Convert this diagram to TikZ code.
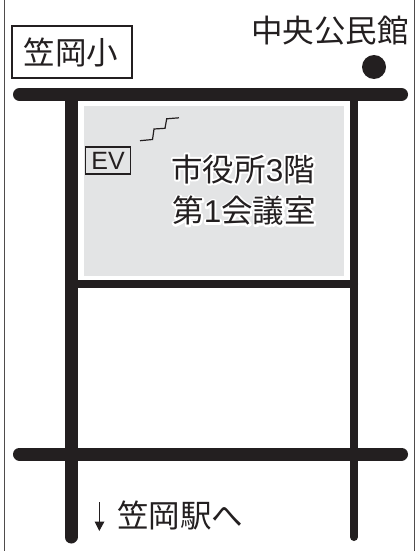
\documentclass[tikz,border=0pt]{standalone}
\usepackage{fontspec}
\newfontfamily\cjk{Noto Sans CJK JP}
\newfontfamily\latn{Liberation Sans}
\setsansfont{Liberation Sans}
\definecolor{ink}{HTML}{231F20}
\definecolor{floorgray}{HTML}{E3E4E5}
\newcommand{\haloed}[1]{\special{pdf:code q 1 Tr 1 1 1 RG 4 w 1 j 1 J}#1\special{pdf:code Q}}
\newcommand{\roomA}{市役所{\latn 3}階}
\newcommand{\roomB}{第{\latn 1}会議室}
\tikzset{
 road/.style={draw=ink,line width=13pt,line cap=round},
 thinroad/.style={draw=ink,line width=8pt,line cap=round},
 label/.style={font=\cjk\fontsize{31.5}{31.5}\selectfont,text=ink,inner sep=0pt},
}
\begin{document}
\begin{tikzpicture}[x=1pt,y=-1pt]
\useasboundingbox (0,0) rectangle (418,551);
\fill[white] (0,0) rectangle (418,551);
% frame: two side rules only
\coordinate (fl1) at (4.5,0); \coordinate (fl2) at (4.5,551);
\coordinate (fr1) at (414.5,0); \coordinate (fr2) at (414.5,551);
\draw[ink!80,line width=1.5pt] (fl1) -- (fl2);
\draw[ink!80,line width=1.5pt] (fr1) -- (fr2);
% floor
\fill[floorgray] (84,106) rectangle (344,276);
% roads
\coordinate (t1) at (19.5,94.5); \coordinate (t2) at (401.5,94.5);
\coordinate (b1) at (19.5,454); \coordinate (b2) at (401.5,454);
\coordinate (l1) at (71,94.5); \coordinate (l2) at (71,537);
\coordinate (r1) at (354,94.5); \coordinate (r2) at (354,537);
\coordinate (m1) at (71,284); \coordinate (m2) at (354,284);
\draw[thinroad] (m1) -- (m2);
\draw[road] (l1) -- (l2);
\draw[thinroad] (r1) -- (r2);
\draw[road] (t1) -- (t2);
\draw[road] (b1) -- (b2);
% labels
\node[draw=ink,line width=1.2pt,minimum width=120pt,minimum height=52pt,inner sep=0pt] (school) at (72,52) {};
\node[label] (schooltext) at (71,52) {笠岡小};
\node[label,anchor=east] (hall) at (409,31) {中央公民館};
\node[circle,fill=ink,minimum size=24pt,inner sep=0pt] (dot) at (374,67) {};
% EV
\node[draw=ink,line width=1.1pt,minimum width=45.5pt,minimum height=27pt,inner sep=0pt,font=\sffamily\fontsize{25}{25}\selectfont,text=ink] (ev) at (108,160.5) {EV};
\draw[ink,line width=1.2pt] (140,140.7) -- (152.5,139.5) -- (154,129) -- (165,128.3) -- (166.7,118.8) -- (179,117.8);
% room text with halo
\node[label,anchor=east] (halo1) at (315,169) {\haloed{\roomA}};
\node[label,anchor=east] (halo2) at (316,211) {\haloed{\roomB}};
\node[label,anchor=east] (room1) at (315,169) {\roomA};
\node[label,anchor=east] (room2) at (316,211) {\roomB};
% station
\node[label,anchor=west] (station) at (117,516) {笠岡駅へ};
\coordinate (a1) at (99.3,502); \coordinate (a2) at (99.3,531);
\draw[ink,line width=1.1pt] (a1) -- (99.3,525);
\fill[ink] (94.5,521.5) -- (104.5,521.5) -- (a2) -- cycle;
\end{tikzpicture}
\end{document}
